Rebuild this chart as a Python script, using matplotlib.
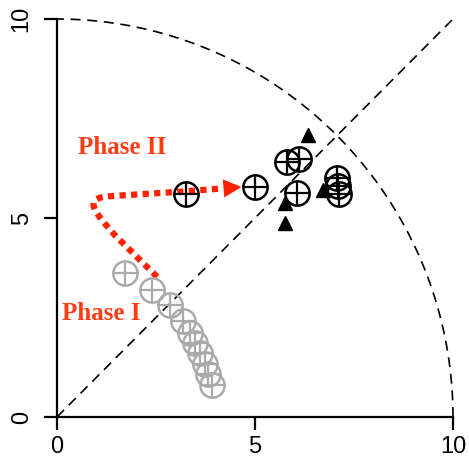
import matplotlib.pyplot as plt
import numpy as np

# phase I (grey) and phase II (black) positions
phase1_x = [1.72, 2.40, 2.85, 3.18, 3.36, 3.48, 3.61, 3.74, 3.81, 3.91]
phase1_y = [3.62, 3.19, 2.81, 2.41, 2.11, 1.86, 1.61, 1.33, 1.08, 0.80]

phase2_x = [3.26, 5.00, 5.81, 6.11, 6.06, 7.07, 7.10, 7.12]
phase2_y = [5.60, 5.78, 6.41, 6.48, 5.63, 6.01, 5.80, 5.60]

tri_x = [6.34, 5.76, 5.76, 6.72]
tri_y = [7.09, 5.38, 4.87, 5.70]

# red dotted trajectory
path_x = [2.53, 2.10, 1.46, 1.20, 1.05, 0.96, 0.92, 0.93, 0.98, 1.08, 1.25, 1.50,
          1.84, 3.10, 4.15]
path_y = [3.52, 3.94, 4.57, 4.87, 5.06, 5.20, 5.31, 5.40, 5.46, 5.51, 5.54, 5.56,
          5.58, 5.66, 5.74]
arrow_tip = (4.66, 5.78)

radius = 10
ticks = [0, 5, 10]

red = '#ff2200'
txt_red = '#ff3c14'
grey = '#aaaaaa'

fig = plt.figure(figsize=(4.69, 4.68), dpi=100)
ax = fig.add_axes([57 / 469, 51 / 468, 396 / 469, 398 / 468])
ax.set_xlim(0, 10)
ax.set_ylim(0, 10)

# reference lines
th = np.linspace(0, np.pi / 2, 200)
ax.plot(radius * np.cos(th), radius * np.sin(th), color='black', lw=1.2,
        dashes=(6, 4), clip_on=False)
ax.plot([0, 10], [0, 10], color='black', lw=1.2, dashes=(6, 4), clip_on=False)

# trajectory
ax.plot(path_x, path_y, color=red, lw=4.5, dashes=(1, 0.85), dash_capstyle='butt',
        dash_joinstyle='round')
ax.annotate('', xy=arrow_tip, xytext=(path_x[-1], path_y[-1]),
            arrowprops=dict(arrowstyle='-|>,head_length=1.3,head_width=0.65',
                            color=red, lw=0, shrinkA=0, shrinkB=0))

# circled-plus markers
for xs, ys, c in [(phase1_x, phase1_y, grey), (phase2_x, phase2_y, 'black')]:
    ax.plot(xs, ys, 'o', ms=17.5, mfc='none', mec=c, mew=1.8, ls='none')
    ax.plot(xs, ys, '+', ms=17.5, mec=c, mew=1.6, ls='none')

ax.plot(tri_x, tri_y, '^', ms=10.5, color='black', ls='none')

ax.text(0.53, 6.78, 'Phase II', color=txt_red, fontsize=18, fontweight='bold',
        family='Liberation Serif', va='center', ha='left')
ax.text(0.13, 2.61, 'Phase I', color=txt_red, fontsize=18, fontweight='bold',
        family='Liberation Serif', va='center', ha='left')

for s in ['top', 'right']:
    ax.spines[s].set_visible(False)
for s in ['left', 'bottom']:
    ax.spines[s].set_linewidth(1.6)
    ax.spines[s].set_bounds(0, 10)

ax.set_xticks(ticks)
ax.set_yticks(ticks)
ax.set_xticklabels([str(t) for t in ticks], family='Liberation Sans', fontsize=17)
ax.set_yticklabels([str(t) for t in ticks], family='Liberation Sans', fontsize=17,
                   rotation=90, va='center')
ax.tick_params(direction='out', length=9.5, width=1.6, pad=4)
ax.tick_params(axis='y', pad=8)

fig.savefig('out.png', dpi=100)
